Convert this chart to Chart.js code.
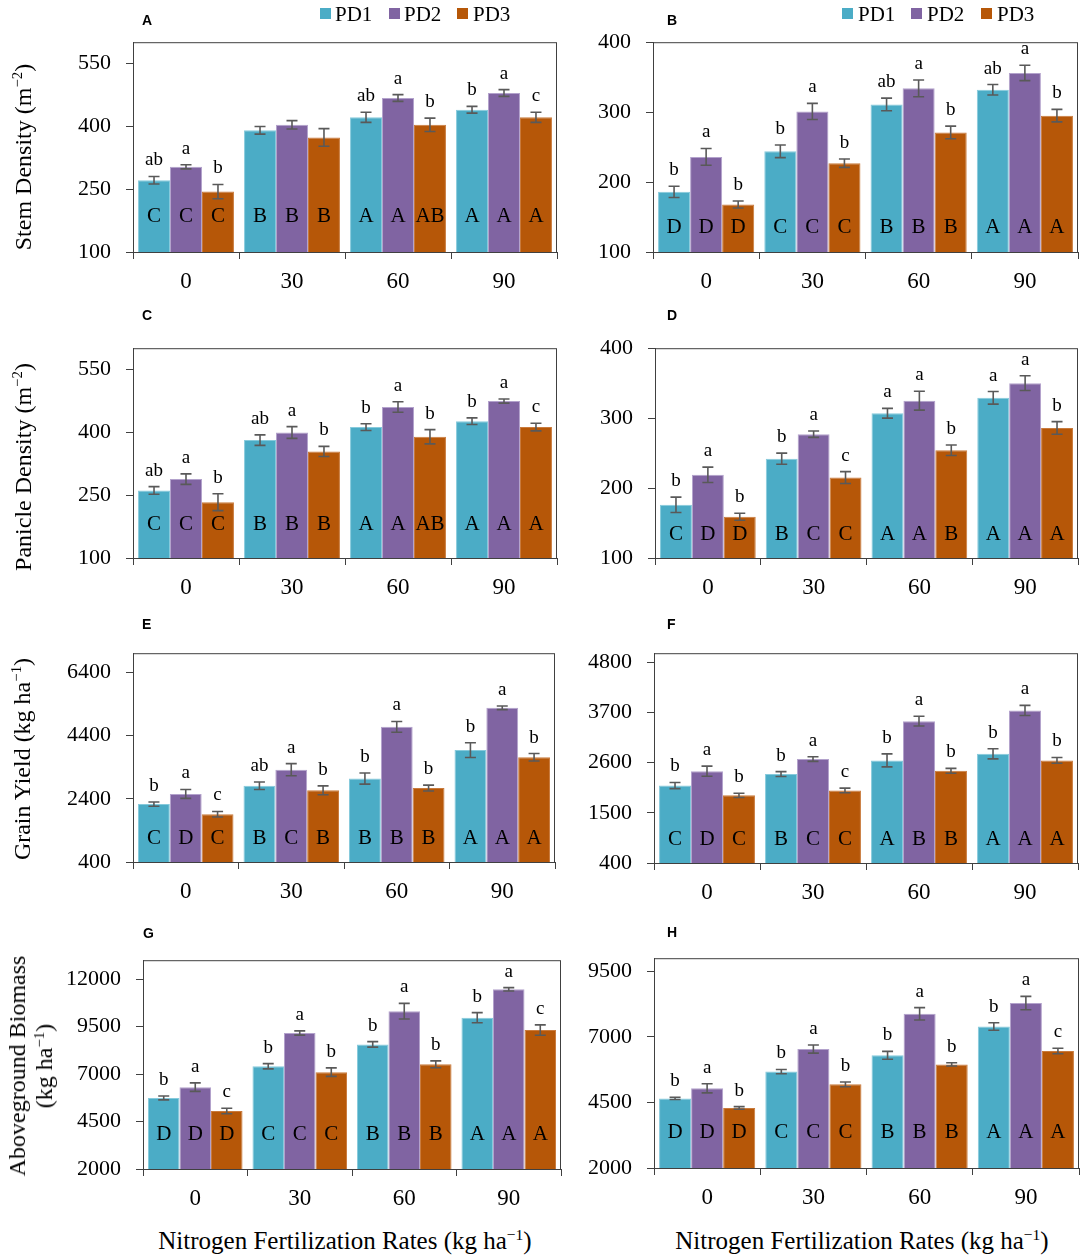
<!DOCTYPE html>
<html>
<head>
<meta charset="utf-8">
<script src="https://cdn.jsdelivr.net/npm/chart.js@4.4.1/dist/chart.umd.min.js"></script>
<style>
  body { margin: 0; background: #fff; }
  #page { position: relative; width: 1084px; height: 1260px; overflow: hidden; font-family: "Liberation Serif", "Times New Roman", serif; color: #000; }
  canvas { position: absolute; }
  .txt { position: absolute; white-space: nowrap; line-height: 1; }
  .plabel { font-family: "Liberation Sans", Arial, sans-serif; font-weight: bold; font-size: 14px; }
  .ytitle { font-size: 24px; text-align: center; transform: translate(-50%, -50%) rotate(-90deg); line-height: 27px; }
  .xtitle { font-size: 25px; transform: translate(-50%, -50%); }
  .sq { position: absolute; width: 11px; height: 11px; }
  .leg { font-size: 21px; }
  sup { font-size: 0.62em; vertical-align: 0.55em; line-height: 0; }
</style>
</head>
<body>
<div id="page"></div>
<script>
// categories and series
const nRates = ['0', '30', '60', '90'];
const seriesNames = ['PD1', 'PD2', 'PD3'];
const seriesColors = ['#4BACC6', '#8064A2', '#B65708'];
const seriesEdges = ['#86CADC', '#B3A2CC', '#C97A3C'];

// A - stem density (year 1)
const stemA_PD1 = [271, 390, 421, 439];
const stemA_PD2 = [303, 403, 467, 479];
const stemA_PD3 = [244, 373, 403, 421];
const stemA_err = [[9, 9, 12, 8], [5, 10, 8, 8], [17, 21, 16, 12]];
const stemA_up = [['ab', 'a', 'b'], ['', '', ''], ['ab', 'a', 'b'], ['b', 'a', 'c']];
const stemA_low = [['C', 'C', 'C'], ['B', 'B', 'B'], ['A', 'A', 'AB'], ['A', 'A', 'A']];
const stemA_ticks = [100, 250, 400, 550];

// B - stem density (year 2)
const stemB_PD1 = [186, 244, 311, 332];
const stemB_PD2 = [236, 301, 334, 356];
const stemB_PD3 = [168, 227, 271, 295];
const stemB_err = [[8, 9, 9, 7.5], [12, 11.5, 12, 11], [5, 6, 9, 9]];
const stemB_up = [['b', 'a', 'b'], ['b', 'a', 'b'], ['ab', 'a', 'b'], ['ab', 'a', 'b']];
const stemB_low = [['D', 'D', 'D'], ['C', 'C', 'C'], ['B', 'B', 'B'], ['A', 'A', 'A']];
const stemB_ticks = [100, 200, 300, 400];

// C - panicle density (year 1)
const panC_PD1 = [261, 381, 412, 426];
const panC_PD2 = [288, 399, 460, 474];
const panC_PD3 = [233, 354, 389, 412];
const panC_err = [[9, 12.5, 8, 8], [12.5, 14, 12.5, 5], [20, 12, 17, 9]];
const panC_up = [['ab', 'a', 'b'], ['ab', 'a', 'b'], ['b', 'a', 'b'], ['b', 'a', 'c']];
const panC_low = [['C', 'C', 'C'], ['B', 'B', 'B'], ['A', 'A', 'AB'], ['A', 'A', 'A']];
const panC_ticks = [100, 250, 400, 550];

// D - panicle density (year 2)
const panD_PD1 = [176, 242, 307, 329];
const panD_PD2 = [219, 277, 325, 350];
const panD_PD3 = [159, 215, 254, 286];
const panD_err = [[11, 8, 7, 9], [11, 4.5, 13.5, 10.5], [5, 8.5, 7.5, 9]];
const panD_up = [['b', 'a', 'b'], ['b', 'a', 'c'], ['a', 'a', 'b'], ['a', 'a', 'b']];
const panD_low = [['C', 'D', 'D'], ['B', 'C', 'C'], ['A', 'A', 'B'], ['A', 'A', 'A']];
const panD_ticks = [100, 200, 300, 400];

// E - grain yield (year 1)
const yldE_PD1 = [2231, 2810, 3038, 3938];
const yldE_PD2 = [2552, 3317, 4672, 5272];
const yldE_PD3 = [1910, 2665, 2738, 3710];
const yldE_err = [[67, 120, 176, 233], [140, 191, 170, 57], [88, 140, 93, 119]];
const yldE_up = [['b', 'a', 'c'], ['ab', 'a', 'b'], ['b', 'a', 'b'], ['b', 'a', 'b']];
const yldE_low = [['C', 'D', 'C'], ['B', 'C', 'B'], ['B', 'B', 'B'], ['A', 'A', 'A']];
const yldE_ticks = [400, 2400, 4400, 6400];

// F - grain yield (year 2)
const yldF_PD1 = [2098, 2349, 2650, 2793];
const yldF_PD2 = [2414, 2679, 3510, 3746];
const yldF_PD3 = [1883, 1991, 2421, 2650];
const yldF_err = [[68, 54, 143, 111], [111, 50, 107, 111], [47, 50, 54, 64]];
const yldF_up = [['b', 'a', 'b'], ['b', 'a', 'c'], ['b', 'a', 'b'], ['b', 'a', 'b']];
const yldF_low = [['C', 'D', 'C'], ['B', 'C', 'C'], ['A', 'B', 'B'], ['A', 'A', 'A']];
const yldF_ticks = [400, 1500, 2600, 3700, 4800];

// G - aboveground biomass (year 1)
const bioG_PD1 = [5746, 7412, 8564, 9973];
const bioG_PD2 = [6313, 9165, 10316, 11467];
const bioG_PD3 = [5058, 7103, 7515, 9320];
const bioG_err = [[103, 137, 146, 266], [223, 112, 412, 86], [146, 223, 180, 275]];
const bioG_up = [['b', 'a', 'c'], ['b', 'a', 'b'], ['b', 'a', 'b'], ['b', 'a', 'c']];
const bioG_low = [['D', 'D', 'D'], ['C', 'C', 'C'], ['B', 'B', 'B'], ['A', 'A', 'A']];
const bioG_ticks = [2000, 4500, 7000, 9500, 12000];

// H - aboveground biomass (year 2)
const bioH_PD1 = [4654, 5675, 6298, 7394];
const bioH_PD2 = [5040, 6535, 7880, 8291];
const bioH_PD3 = [4292, 5189, 5949, 6460];
const bioH_err = [[44, 81, 150, 143], [174, 156, 237, 255], [50, 93, 62, 106]];
const bioH_up = [['b', 'a', 'b'], ['b', 'a', 'b'], ['b', 'a', 'b'], ['b', 'a', 'c']];
const bioH_low = [['D', 'D', 'D'], ['C', 'C', 'C'], ['B', 'B', 'B'], ['A', 'A', 'A']];
const bioH_ticks = [2000, 4500, 7000, 9500];

const panels = [
  { tag: 'A', vals: [stemA_PD1, stemA_PD2, stemA_PD3], err: stemA_err, up: stemA_up, low: stemA_low, ticks: stemA_ticks, min: 100, max: 600,
    box: { l: 133, t: 38, r: 557, b: 252 }, lowOff: 30, lab: [142, 13] },
  { tag: 'B', vals: [stemB_PD1, stemB_PD2, stemB_PD3], err: stemB_err, up: stemB_up, low: stemB_low, ticks: stemB_ticks, min: 100, max: 400,
    box: { l: 653, t: 38, r: 1078, b: 252 }, lowOff: 19, lab: [667, 13] },
  { tag: 'C', vals: [panC_PD1, panC_PD2, panC_PD3], err: panC_err, up: panC_up, low: panC_low, ticks: panC_ticks, min: 100, max: 600,
    box: { l: 133, t: 344, r: 557, b: 558 }, lowOff: 28, lab: [142, 308] },
  { tag: 'D', vals: [panD_PD1, panD_PD2, panD_PD3], err: panD_err, up: panD_up, low: panD_low, ticks: panD_ticks, min: 100, max: 400,
    box: { l: 655, t: 344, r: 1078, b: 558 }, lowOff: 18, lab: [667, 308] },
  { tag: 'E', vals: [yldE_PD1, yldE_PD2, yldE_PD3], err: yldE_err, up: yldE_up, low: yldE_low, ticks: yldE_ticks, min: 400, max: 7000,
    box: { l: 133, t: 649, r: 555, b: 862 }, lowOff: 18, lab: [142, 617] },
  { tag: 'F', vals: [yldF_PD1, yldF_PD2, yldF_PD3], err: yldF_err, up: yldF_up, low: yldF_low, ticks: yldF_ticks, min: 400, max: 5000,
    box: { l: 654, t: 649, r: 1078, b: 863 }, lowOff: 18, lab: [667, 617] },
  { tag: 'G', vals: [bioG_PD1, bioG_PD2, bioG_PD3], err: bioG_err, up: bioG_up, low: bioG_low, ticks: bioG_ticks, min: 2000, max: 13000,
    box: { l: 143, t: 956, r: 561, b: 1169 }, lowOff: 29, lab: [143, 926] },
  { tag: 'H', vals: [bioH_PD1, bioH_PD2, bioH_PD3], err: bioH_err, up: bioH_up, low: bioH_low, ticks: bioH_ticks, min: 2000, max: 10000,
    box: { l: 654, t: 954, r: 1079, b: 1168 }, lowOff: 30, lab: [667, 925] }
];

const page = document.getElementById('page');
const AXIS = '#404040';
const SERIF = '"Liberation Serif", "Times New Roman", serif';
Chart.defaults.font.family = SERIF;
Chart.defaults.color = '#000';

const LEFT_W = 120, TOP_P = 24, RIGHT_P = 8, BOTTOM_H = 45;

// error bars, significance letters and the plot frame
const annotPlugin = {
  id: 'annot',
  afterDatasetsDraw(chart, args, opts) {
    const ctx = chart.ctx;
    const ys = chart.scales.y;
    const area = chart.chartArea;
    ctx.save();
    chart.data.datasets.forEach((ds, i) => {
      const meta = chart.getDatasetMeta(i);
      meta.data.forEach((bar, j) => {
        const v = ds.data[j];
        const e = ds.errors[j];
        const yTop = ys.getPixelForValue(v + e);
        const yBot = ys.getPixelForValue(v - e);
        ctx.strokeStyle = '#595959';
        ctx.lineWidth = 1.6;
        ctx.beginPath();
        ctx.moveTo(bar.x, yTop); ctx.lineTo(bar.x, yBot);
        ctx.moveTo(bar.x - 5.5, yTop); ctx.lineTo(bar.x + 5.5, yTop);
        ctx.moveTo(bar.x - 5.5, yBot); ctx.lineTo(bar.x + 5.5, yBot);
        ctx.stroke();
        ctx.fillStyle = '#000';
        ctx.textAlign = 'center';
        ctx.textBaseline = 'alphabetic';
        ctx.font = '19px ' + SERIF;
        const up = opts.up[j][i];
        if (up) ctx.fillText(up, bar.x, yTop - 11);
        ctx.font = '21px ' + SERIF;
        ctx.fillText(opts.low[j][i], bar.x, area.bottom - opts.lowOff);
      });
    });
    ctx.strokeStyle = AXIS;
    ctx.lineWidth = 1;
    ctx.strokeRect(area.left + 0.5, area.top + 0.5, area.right - area.left - 1, area.bottom - area.top);
    ctx.restore();
  }
};

panels.forEach(p => {
  const b = p.box;
  const cv = document.createElement('canvas');
  const w = b.r - b.l + LEFT_W + RIGHT_P;
  const h = b.b - b.t + TOP_P + BOTTOM_H;
  cv.width = w; cv.height = h;
  cv.style.left = (b.l - LEFT_W) + 'px';
  cv.style.top = (b.t - TOP_P) + 'px';
  cv.style.width = w + 'px'; cv.style.height = h + 'px';
  page.appendChild(cv);

  new Chart(cv, {
    type: 'bar',
    data: {
      labels: nRates,
      datasets: seriesNames.map((name, i) => ({
        label: name,
        data: p.vals[i],
        errors: p.err[i],
        backgroundColor: seriesColors[i],
        borderColor: seriesEdges[i],
        borderWidth: 1,
        categoryPercentage: 0.905,
        barPercentage: 1.0
      }))
    },
    options: {
      responsive: false,
      animation: false,
      devicePixelRatio: 1,
      layout: { padding: { left: 0, top: TOP_P, right: RIGHT_P, bottom: 0 } },
      plugins: {
        legend: { display: false },
        tooltip: { enabled: false },
        annot: { up: p.up, low: p.low, lowOff: p.lowOff }
      },
      scales: {
        x: {
          afterFit: s => { s.height = BOTTOM_H; },
          grid: { offset: true, drawOnChartArea: false, tickLength: 7, color: AXIS },
          border: { color: AXIS },
          ticks: { font: { size: 23 }, padding: 9, color: '#000' }
        },
        y: {
          min: p.min,
          max: p.max,
          afterFit: s => { s.width = LEFT_W; },
          afterBuildTicks: s => { s.ticks = p.ticks.map(v => ({ value: v })); },
          grid: { drawOnChartArea: false, tickLength: 7, color: AXIS },
          border: { color: AXIS },
          ticks: { font: { size: 22 }, padding: 15, color: '#000', callback: v => String(v) }
        }
      }
    },
    plugins: [annotPlugin]
  });

  const lab = document.createElement('div');
  lab.className = 'txt plabel';
  lab.style.left = p.lab[0] + 'px';
  lab.style.top = p.lab[1] + 'px';
  lab.textContent = p.tag;
  page.appendChild(lab);
});

// legends above panels A and B
const legendSets = [
  { sq: [320, 389, 457], tx: [335, 404, 473] },
  { sq: [842, 911, 981], tx: [858, 927, 997] }
];
legendSets.forEach(set => {
  seriesNames.forEach((name, i) => {
    const s = document.createElement('div');
    s.className = 'sq';
    s.style.left = set.sq[i] + 'px';
    s.style.top = '8px';
    s.style.background = seriesColors[i];
    page.appendChild(s);
    const t = document.createElement('div');
    t.className = 'txt leg';
    t.style.left = set.tx[i] + 'px';
    t.style.top = '4px';
    t.textContent = name;
    page.appendChild(t);
  });
});

// axis titles
const yTitles = [
  { html: 'Stem Density (m<sup>−2</sup>)', x: 23, y: 157 },
  { html: 'Panicle Density (m<sup>−2</sup>)', x: 23, y: 467 },
  { html: 'Grain Yield (kg ha<sup>−1</sup>)', x: 22, y: 759 },
  { html: 'Aboveground Biomass<br>(kg ha<sup>−1</sup>)', x: 31, y: 1066 }
];
yTitles.forEach(t => {
  const d = document.createElement('div');
  d.className = 'txt ytitle';
  d.style.left = t.x + 'px';
  d.style.top = t.y + 'px';
  d.innerHTML = t.html;
  page.appendChild(d);
});
[345, 862].forEach(x => {
  const d = document.createElement('div');
  d.className = 'txt xtitle';
  d.style.left = x + 'px';
  d.style.top = '1240px';
  d.innerHTML = 'Nitrogen Fertilization Rates (kg ha<sup>−1</sup>)';
  page.appendChild(d);
});
</script>
</body>
</html>
